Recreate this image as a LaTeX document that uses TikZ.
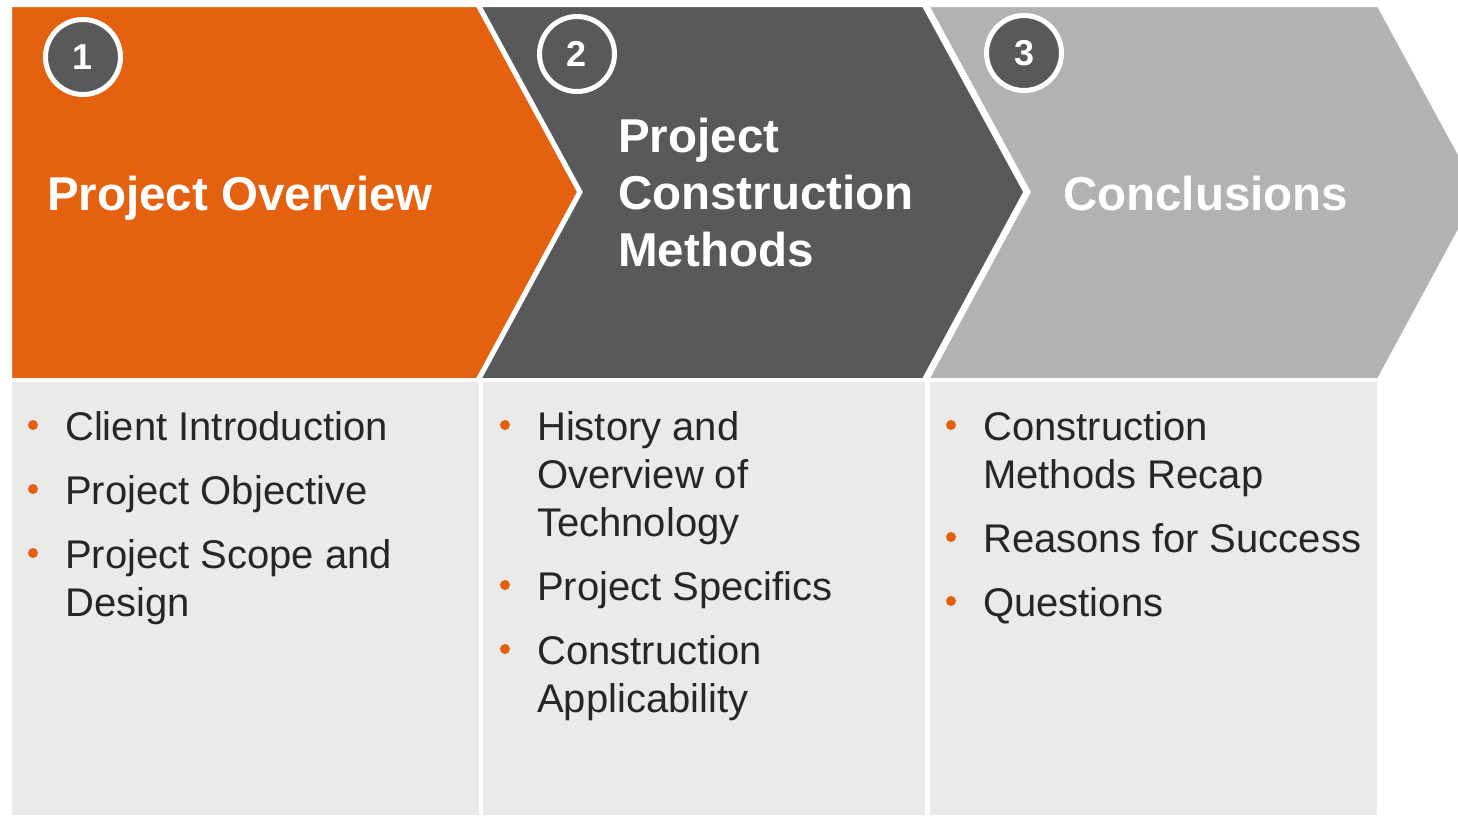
\documentclass[tikz,border=0pt]{standalone}
\usepackage{fontspec}
\setmainfont{Liberation Sans}
\definecolor{orng}{HTML}{E3610F}
\definecolor{slate}{HTML}{58595B}
\definecolor{ash}{HTML}{B2B2B2}
\definecolor{pane}{HTML}{EAEAEA}
\definecolor{ink}{HTML}{262626}
\tikzset{
  chev/.style={draw=white, line width=5pt, line join=miter},
  panebox/.style={fill=pane},
  num/.style={circle, draw=white, line width=5pt, fill=slate, minimum size=75pt,
    inner sep=0pt, text=white, font=\bfseries\fontsize{36}{36}\selectfont},
  title/.style={anchor=base west, inner sep=0pt, text=white, align=left,
    font=\bfseries\fontsize{47.5}{57}\selectfont},
  item/.style={anchor=base west, inner sep=0pt, text=ink, align=left,
    font=\fontsize{40}{48}\selectfont},
  dot/.style={circle, fill=orng, inner sep=0pt, minimum size=10pt},
}

\begin{document}
\begin{tikzpicture}[x=1pt, y=-1pt]
    \useasboundingbox (0,0) rectangle (1458,815);
    \clip (0,0) rectangle (1458,815);
    \fill[white] (0,0) rectangle (1458,815);
    % chevrons: left x, top-right x, tip depth 102
    \filldraw[chev, fill=orng] (9.5,4.5) -- (478,4.5) -- (580,192) -- (478,380.5) -- (9.5,380.5) -- cycle;
    \filldraw[chev, fill=slate] (478,4.5) -- (924,4.5) -- (1026,192) -- (924,380.5) -- (478,380.5) -- (580,192) -- cycle;
    \filldraw[chev, fill=ash] (926,4.5) -- (1379,4.5) -- (1481,192) -- (1379,380.5) -- (926,380.5) -- (1028,192) -- cycle;
    % lower panels
    \fill[panebox] (12,382) rectangle (479,815);
    \fill[panebox] (483,382) rectangle (925,815);
    \fill[panebox] (930,382) rectangle (1377,815);
    % step numbers
    \node[num] (n1) at (83,57) {1};
    \node[num] (n2) at (577,54) {2};
    \node[num] (n3) at (1024,53) {3};
    % headings (base = last line)
    \node[title] (t1) at (47,210) {Project Overview};
    \node[title] (t2) at (618,266) {Project\\Construction\\Methods};
    \node[title] (t3) at (1063,210) {Conclusions};
    % first column
    \node[item] (a1) at (65,440) {Client Introduction};
    \node[item] (a2) at (65,504) {Project Objective};
    \node[item] (a3) at (65,616) {Project Scope and\\Design};
    % second column
    \node[item] (b1) at (537,536) {History and\\Overview of\\Technology};
    \node[item] (b2) at (537,600) {Project Specifics};
    \node[item] (b3) at (537,712) {Construction\\Applicability};
    % third column
    \node[item] (c1) at (983,488) {Construction\\Methods Recap};
    \node[item] (c2) at (983,552) {Reasons for Success};
    \node[item] (c3) at (983,616) {Questions};
    % bullets
    \foreach \y [count=\i] in {440,504,568} \node[dot] (da\i) at (33,\y-15) {};
    \foreach \y [count=\i] in {440,600,664} \node[dot] (db\i) at (505,\y-15) {};
    \foreach \y [count=\i] in {440,552,616} \node[dot] (dc\i) at (951,\y-15) {};
\end{tikzpicture}
\end{document}
